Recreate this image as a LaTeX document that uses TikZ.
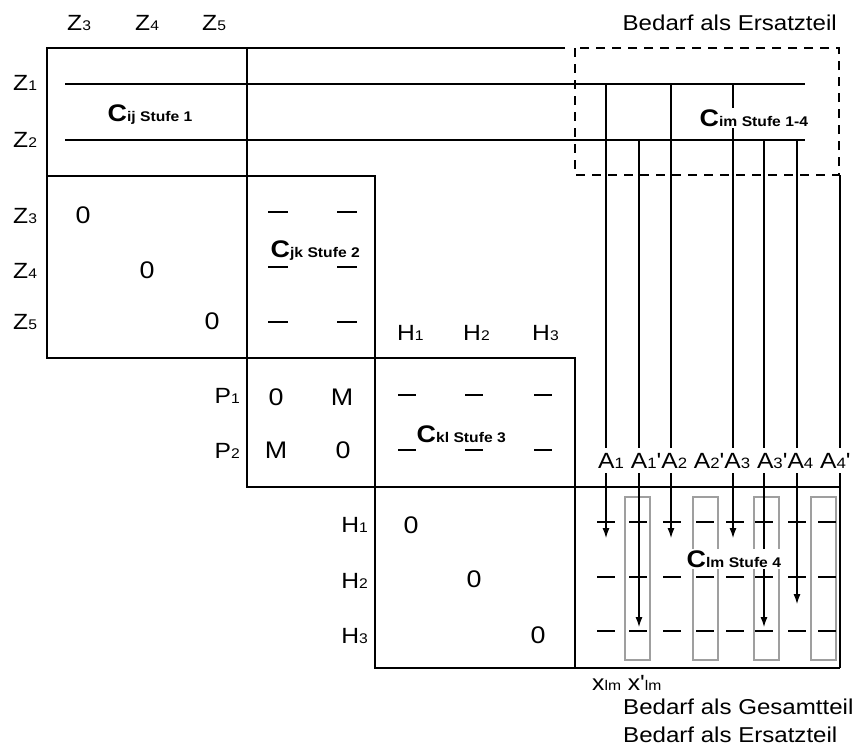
\documentclass[tikz,border=0pt]{standalone}
\usepackage{fontspec}
\setmainfont{Liberation Sans}[FakeStretch=1.12]
\newfontfamily\straightfont{Liberation Sans}[FakeStretch=1.12, Ligatures=TeXOff]
\usetikzlibrary{arrows.meta}

% small index set on the base line
\newcommand\idx[1]{{\fontsize{14}{14}\selectfont #1}}
\newcommand\aidx[1]{{\fontsize{15}{15}\selectfont #1}}
\newcommand\prm{{\straightfont '}}
\newcommand\stufe[2]{C{\fontsize{14}{14}\selectfont #1 Stufe #2}}

\begin{document}
\begin{tikzpicture}[x=1pt, y=-1pt,
  frame/.style={line width=1.3pt, black},
  colline/.style={line width=1.1pt, black},
  dashmark/.style={line width=1.3pt, black},
  graybox/.style={draw=gray!75, line width=1.1pt},
  lbl/.style={font=\fontsize{22}{22}\selectfont, inner sep=0pt},
  entry/.style={font=\fontsize{24}{24}\selectfont, inner sep=0pt, anchor=base},
  stufelbl/.style={font=\fontsize{24}{24}\selectfont\bfseries, inner sep=1.5pt, anchor=base west},
  note/.style={font=\fontsize{21.5}{21.5}\selectfont, inner sep=0pt},
  arr/.style={-{Latex[length=10pt,width=7pt]}}
]
\useasboundingbox (0,0) rectangle (856,753);

% frame of the blocks
\draw[frame] (565,48) -- (47,48) -- (47,358) -- (575,358) -- (575,668);
\draw[frame] (47,176) -- (375,176) -- (375,668) -- (840,668);
\draw[frame] (247,48) -- (247,487) -- (840,487);
\draw[frame] (65,84) -- (805,84);
\draw[frame] (65,140) -- (805,140);
\draw[frame, dash pattern=on 9pt off 7pt] (575,48) rectangle (839,175);

% column and row heads
\node[lbl, anchor=base west] (z3t) at (67,30) {Z\idx{3}};
\node[lbl, anchor=base west] (z4t) at (135,30) {Z\idx{4}};
\node[lbl, anchor=base west] (z5t) at (202,30) {Z\idx{5}};
\node[lbl, anchor=base west] (z1) at (13,90) {Z\idx{1}};
\node[lbl, anchor=base west] (z2) at (13,147) {Z\idx{2}};
\node[lbl, anchor=base west] (z3) at (13,223) {Z\idx{3}};
\node[lbl, anchor=base west] (z4) at (13,278) {Z\idx{4}};
\node[lbl, anchor=base west] (z5) at (13,329) {Z\idx{5}};
\node[lbl, anchor=base east] (p1) at (240,403) {P\idx{1}};
\node[lbl, anchor=base east] (p2) at (240,458) {P\idx{2}};
\node[lbl, anchor=base west] (h1t) at (397,340) {H\idx{1}};
\node[lbl, anchor=base west] (h2t) at (463,340) {H\idx{2}};
\node[lbl, anchor=base west] (h3t) at (532,340) {H\idx{3}};
\node[lbl, anchor=base east] (h1) at (368,532) {H\idx{1}};
\node[lbl, anchor=base east] (h2) at (368,588) {H\idx{2}};
\node[lbl, anchor=base east] (h3) at (368,643) {H\idx{3}};

% entries
\node[entry] (e33) at (83,223) {0};
\node[entry] (e44) at (147,278) {0};
\node[entry] (e55) at (212,329) {0};
\node[entry] (q11) at (276,405) {0};
\node[entry] (q12) at (342,405) {M};
\node[entry] (q21) at (276,458) {M};
\node[entry] (q22) at (343,458) {0};
\node[entry] (r11) at (411,533) {0};
\node[entry] (r22) at (474,587) {0};
\node[entry] (r33) at (538,643) {0};

\foreach \x in {278,347}
  \foreach \y in {212,267,322}
    \draw[dashmark] (\x-10,\y) -- (\x+10,\y);
\foreach \x in {407,474,543}
  \foreach \y in {395,450}
    \draw[dashmark] (\x-9,\y) -- (\x+9,\y);

% columns of stage 4
\foreach \x in {625,693,754,811}
  \draw[graybox] (\x,497) rectangle ++(25,163);
\foreach \x in {606,638,672,705,735,764,797,827}
  \foreach \y in {522,577,631}
    \draw[dashmark] (\x-9,\y) -- (\x+9,\y);

\node[font=\fontsize{22}{22}\selectfont, anchor=base west, inner xsep=0pt, inner ysep=5pt] (alabels) at (598,468)
  {A\aidx{1} A\aidx{1}\prm A\aidx{2} A\aidx{2}\prm A\aidx{3} A\aidx{3}\prm A\aidx{4} A\aidx{4}\prm};

\foreach \n/\x/\ytop/\ytip in {1/606/84/538, 2/639/140/627, 3/671/84/538,
                               4/733/84/538, 5/764/140/627, 6/797/140/604}{
  \coordinate (top\n) at (\x,\ytop);
  \coordinate (tip\n) at (\x,\ytip);
  \draw[colline] (top\n) -- (top\n |- alabels.north);
  \draw[colline, arr] (top\n |- alabels.south) -- (tip\n);
}
\coordinate (top7) at (840,175);
\coordinate (end7) at (840,668);
\draw[colline] (top7) -- (top7 |- alabels.north);
\draw[frame] (top7 |- alabels.south) -- (end7);

% block names
\node[stufelbl] (cij) at (106,121) {\stufe{ij}{1}};
\node[stufelbl, fill=white] (cim) at (698,126) {\stufe{im}{1-4}};
\node[stufelbl] (cjk) at (269,257) {\stufe{jk}{2}};
\node[stufelbl] (ckl) at (415,442) {\stufe{kl}{3}};
\node[stufelbl, fill=white] (clm) at (685,567) {\stufe{lm}{4}};

% notes
\node[note, anchor=base east] (ersatztop) at (837,30) {Bedarf als Ersatzteil};
\node[lbl, anchor=base west] (xlm) at (592,690) {x\idx{lm} x\prm\idx{lm}};
\node[note, anchor=base west] (gesamt) at (623,714) {Bedarf als Gesamtteil};
\node[note, anchor=base west] (ersatz) at (623,742) {Bedarf als Ersatzteil};
\end{tikzpicture}
\end{document}
